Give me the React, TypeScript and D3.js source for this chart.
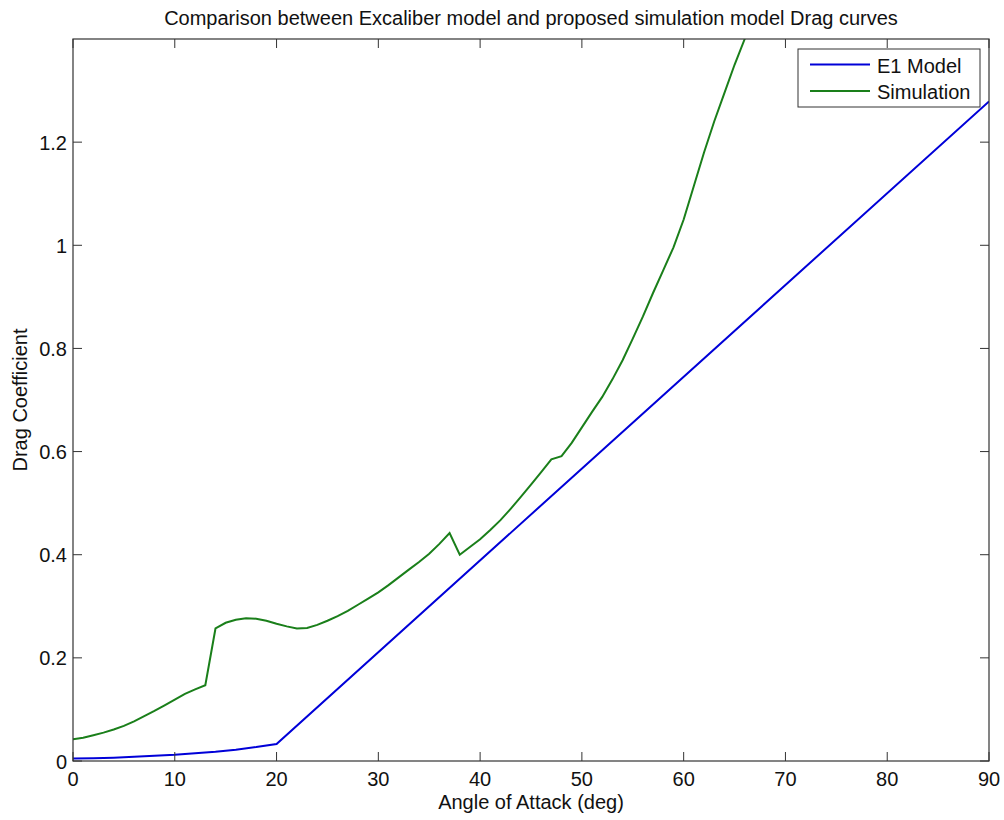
import React from "react";
import * as d3 from "d3";

// Angle of attack samples (deg) and drag coefficients for each model
const e1Angles = [0, 2, 4, 6, 8, 10, 12, 14, 16, 18, 20, 90];
const e1Drag = [0.005, 0.0055, 0.0065, 0.008, 0.01, 0.012, 0.015, 0.018, 0.022, 0.027, 0.033, 1.279];

const simAngles = [
  0, 1, 2, 3, 4, 5, 6, 7, 8, 9, 10, 11, 12, 13, 14, 15, 16, 17, 18, 19, 20,
  21, 22, 23, 24, 25, 26, 27, 28, 29, 30, 31, 32, 33, 34, 35, 36, 37, 38, 39,
  40, 41, 42, 43, 44, 45, 46, 47, 48, 49, 50, 51, 52, 53, 54, 55, 56, 57, 58,
  59, 60, 61, 62, 63, 64, 65, 66, 67,
];
const simDrag = [
  0.042, 0.045, 0.05, 0.055, 0.061, 0.068, 0.077, 0.087, 0.097, 0.108, 0.119,
  0.13, 0.139, 0.147, 0.257, 0.268, 0.274, 0.277, 0.276, 0.272, 0.266, 0.261,
  0.257, 0.258, 0.264, 0.272, 0.281, 0.291, 0.303, 0.315, 0.327, 0.341, 0.356,
  0.371, 0.386, 0.402, 0.421, 0.442, 0.4, 0.415, 0.43, 0.448, 0.467, 0.489,
  0.512, 0.536, 0.56, 0.585, 0.591, 0.617, 0.647, 0.677, 0.706, 0.74, 0.777,
  0.819, 0.862, 0.908, 0.952, 0.996, 1.05, 1.115, 1.18, 1.24, 1.295, 1.35, 1.4, 1.45,
];

const xTicks = [0, 10, 20, 30, 40, 50, 60, 70, 80, 90];
const yTicks = [0, 0.2, 0.4, 0.6, 0.8, 1, 1.2];

const seriesNames = ["E1 Model", "Simulation"];
const seriesColors = ["#0000d8", "#1a7f1a"];

const W = 1004;
const H = 820;
const M = { left: 73, right: 15, top: 39, bottom: 59 };
const FONT = "'Liberation Sans', Arial, sans-serif";

export default function App() {
  const x = d3.scaleLinear().domain([0, 90]).range([M.left, W - M.right]);
  const y = d3.scaleLinear().domain([0, 1.4]).range([H - M.bottom, M.top]);

  const line = d3
    .line<[number, number]>()
    .x((d) => x(d[0]))
    .y((d) => y(d[1]));

  const e1Path = line(e1Angles.map((a, i) => [a, e1Drag[i]]));
  const simPath = line(simAngles.map((a, i) => [a, simDrag[i]]));

  const x0 = x(0);
  const x1 = x(90);
  const y0 = y(0);
  const y1 = y(1.4);
  const tickLen = 9;
  const axisColor = "#333";

  return (
    <svg
      width={W}
      height={H}
      style={{ position: "absolute", left: 0, top: 0, background: "#fff" }}
      fontFamily={FONT}
    >
      <defs>
        <clipPath id="plotClip">
          <rect x={x0} y={y1} width={x1 - x0} height={y0 - y1} />
        </clipPath>
      </defs>

      <text x={(x0 + x1) / 2} y={24.5} textAnchor="middle" fontSize={20} fill="#111">
        Comparison between Excaliber model and proposed simulation model Drag curves
      </text>

      {/* data lines */}
      <g clipPath="url(#plotClip)" fill="none" strokeWidth={2}>
        <path d={e1Path ?? ""} stroke={seriesColors[0]} />
        <path d={simPath ?? ""} stroke={seriesColors[1]} />
      </g>

      {/* axes box */}
      <rect x={x0} y={y1} width={x1 - x0} height={y0 - y1} fill="none" stroke={axisColor} strokeWidth={1.2} />

      {xTicks.map((t) => (
        <g key={"x" + t}>
          <line x1={x(t)} x2={x(t)} y1={y0} y2={y0 - tickLen} stroke={axisColor} />
          <line x1={x(t)} x2={x(t)} y1={y1} y2={y1 + tickLen} stroke={axisColor} />
          <text x={x(t)} y={y0 + 25} textAnchor="middle" fontSize={20} fill="#111">
            {t}
          </text>
        </g>
      ))}
      {yTicks.map((t) => (
        <g key={"y" + t}>
          <line x1={x0} x2={x0 + tickLen} y1={y(t)} y2={y(t)} stroke={axisColor} />
          <line x1={x1} x2={x1 - tickLen} y1={y(t)} y2={y(t)} stroke={axisColor} />
          <text x={x0 - 6} y={y(t) + 7.5} textAnchor="end" fontSize={20} fill="#111">
            {d3.format("~g")(t)}
          </text>
        </g>
      ))}

      <text x={(x0 + x1) / 2} y={809} textAnchor="middle" fontSize={20} fill="#111">
        Angle of Attack (deg)
      </text>
      <text
        transform={`translate(26.5, ${(y0 + y1) / 2}) rotate(-90)`}
        textAnchor="middle"
        fontSize={20}
        fill="#111"
      >
        Drag Coefficient
      </text>

      {/* legend */}
      <g>
        <rect x={798} y={49} width={182} height={58} fill="#fff" stroke={axisColor} strokeWidth={1} />
        {seriesNames.map((name, i) => (
          <g key={name}>
            <line x1={810} x2={870} y1={64.5 + i * 26.5} y2={64.5 + i * 26.5} stroke={seriesColors[i]} strokeWidth={2} />
            <text x={877} y={64.5 + i * 26.5 + 8} fontSize={20} fill="#111">
              {name}
            </text>
          </g>
        ))}
      </g>
    </svg>
  );
}
